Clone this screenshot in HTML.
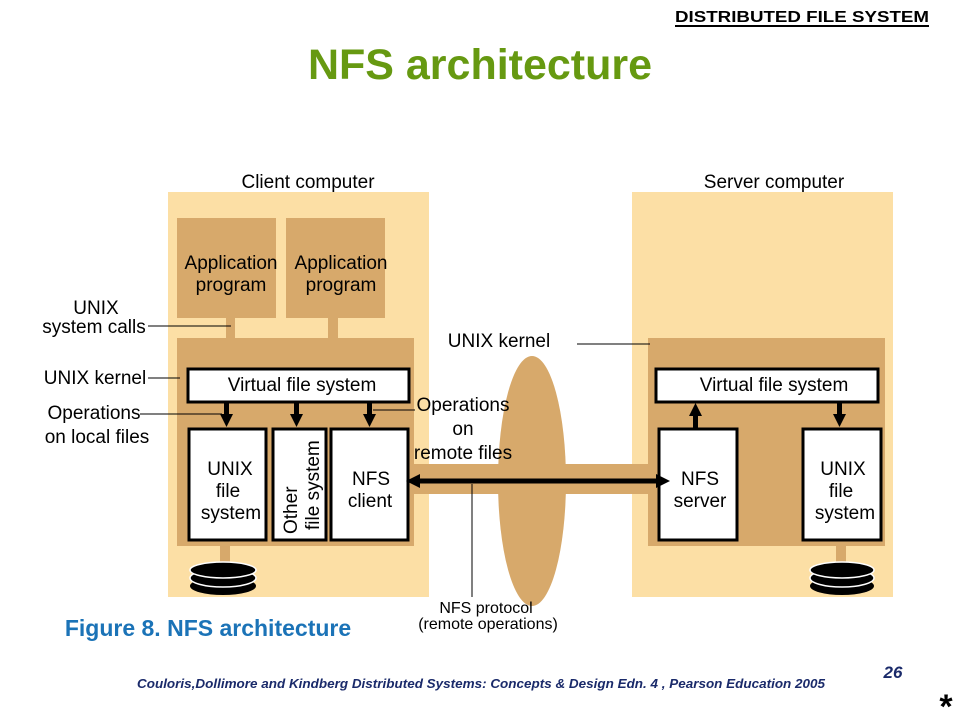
<!DOCTYPE html>
<html><head><style>
body{margin:0;background:#fff}
svg{display:block}
text{font-family:"Liberation Sans",Arial,sans-serif}
</style></head><body>
<svg width="960" height="720" viewBox="0 0 960 720" xmlns="http://www.w3.org/2000/svg">
<text x="929" y="22" font-size="16" font-weight="bold" text-anchor="end" textLength="254" lengthAdjust="spacingAndGlyphs">DISTRIBUTED FILE SYSTEM</text>
<line x1="675" y1="26" x2="929" y2="26" stroke="#000" stroke-width="2"/>
<text x="480" y="79" font-size="43" font-weight="bold" fill="#669911" text-anchor="middle">NFS architecture</text>

<g font-size="19">
<text x="308" y="188" text-anchor="middle">Client computer</text>
<text x="774" y="188" text-anchor="middle">Server computer</text>
</g>

<rect x="168" y="192" width="261" height="405" fill="#fcdfa5"/>
<rect x="632" y="192" width="261" height="405" fill="#fcdfa5"/>

<rect x="408" y="464" width="252" height="30" fill="#d7a96b"/>
<ellipse cx="532" cy="481" rx="34" ry="125" fill="#d7a96b"/>

<g font-size="19">
<rect x="177" y="218" width="99" height="100" fill="#d7a96b"/>
<rect x="286" y="218" width="99" height="100" fill="#d7a96b"/>
<text x="231" y="269" text-anchor="middle">Application</text>
<text x="231" y="291" text-anchor="middle">program</text>
<text x="341" y="269" text-anchor="middle">Application</text>
<text x="341" y="291" text-anchor="middle">program</text>
<rect x="226" y="318" width="9" height="22" fill="#d7a96b"/>
<rect x="328" y="318" width="10" height="22" fill="#d7a96b"/>
<rect x="177" y="338" width="237" height="208" fill="#d7a96b"/>
<rect x="188" y="369" width="221" height="33" fill="#fff" stroke="#000" stroke-width="3"/>
<text x="302" y="391" text-anchor="middle">Virtual file system</text>
<rect x="189" y="429" width="77" height="111" fill="#fff" stroke="#000" stroke-width="3"/>
<rect x="273" y="429" width="53" height="111" fill="#fff" stroke="#000" stroke-width="3"/>
<rect x="331" y="429" width="77" height="111" fill="#fff" stroke="#000" stroke-width="3"/>
<text x="230" y="475" text-anchor="middle">UNIX</text>
<text x="228" y="497" text-anchor="middle">file</text>
<text x="231" y="519" text-anchor="middle">system</text>
<text transform="translate(297,534) rotate(-90)">Other</text>
<text transform="translate(319,530) rotate(-90)">file system</text>
<text x="371" y="485" text-anchor="middle">NFS</text>
<text x="370" y="507" text-anchor="middle">client</text>
</g>
<rect x="220" y="545" width="10" height="24" fill="#d7a96b"/>
<g>
<ellipse cx="223" cy="586" rx="33" ry="9" fill="#000"/>
<ellipse cx="223" cy="578" rx="33" ry="9" fill="#000" stroke="#fff" stroke-width="1.5"/>
<ellipse cx="223" cy="570" rx="33" ry="8" fill="#000" stroke="#fff" stroke-width="1.5"/>
</g>

<g font-size="19">
<rect x="648" y="338" width="237" height="208" fill="#d7a96b"/>
<rect x="656" y="369" width="222" height="33" fill="#fff" stroke="#000" stroke-width="3"/>
<text x="774" y="391" text-anchor="middle">Virtual file system</text>
<rect x="659" y="429" width="78" height="111" fill="#fff" stroke="#000" stroke-width="3"/>
<rect x="803" y="429" width="78" height="111" fill="#fff" stroke="#000" stroke-width="3"/>
<text x="700" y="485" text-anchor="middle">NFS</text>
<text x="700" y="507" text-anchor="middle">server</text>
<text x="843" y="475" text-anchor="middle">UNIX</text>
<text x="841" y="497" text-anchor="middle">file</text>
<text x="845" y="519" text-anchor="middle">system</text>
</g>
<g fill="#000">
<rect x="224" y="402" width="5" height="14"/><path d="M220,414 L233,414 L226.5,427 z"/>
<rect x="294" y="402" width="5" height="14"/><path d="M290,414 L303,414 L296.5,427 z"/>
<rect x="367" y="402" width="5" height="14"/><path d="M363,414 L376,414 L369.5,427 z"/>
<rect x="693" y="414" width="5" height="15"/><path d="M689,416 L702,416 L695.5,403 z"/>
<rect x="837" y="402" width="5" height="14"/><path d="M833,414 L846,414 L839.5,427 z"/>
</g>
<rect x="836" y="545" width="10" height="24" fill="#d7a96b"/>
<g>
<ellipse cx="842" cy="586" rx="32" ry="9" fill="#000"/>
<ellipse cx="842" cy="578" rx="32" ry="9" fill="#000" stroke="#fff" stroke-width="1.5"/>
<ellipse cx="842" cy="570" rx="32" ry="8" fill="#000" stroke="#fff" stroke-width="1.5"/>
</g>

<line x1="418" y1="481" x2="660" y2="481" stroke="#000" stroke-width="5"/>
<path d="M406,481 L420,474 L420,488 z" fill="#000"/>
<path d="M670,481 L656,474 L656,488 z" fill="#000"/>
<line x1="472" y1="484" x2="472" y2="597" stroke="#000" stroke-width="1"/>
<text x="486" y="613" font-size="16" text-anchor="middle">NFS protocol</text>
<text x="488" y="629" font-size="16" text-anchor="middle">(remote operations)</text>

<g font-size="19">
<text x="96" y="314" text-anchor="middle">UNIX</text>
<text x="94" y="333" text-anchor="middle">system calls</text>
<text x="95" y="384" text-anchor="middle">UNIX kernel</text>
<text x="94" y="419" text-anchor="middle">Operations</text>
<text x="97" y="443" text-anchor="middle">on local files</text>
<text x="463" y="411" text-anchor="middle">Operations</text>
<text x="463" y="435" text-anchor="middle">on</text>
<text x="463" y="459" text-anchor="middle">remote files</text>
<text x="499" y="347" text-anchor="middle">UNIX kernel</text>
</g>
<line x1="148" y1="326" x2="231" y2="326" stroke="#000"/>
<line x1="148" y1="378" x2="180" y2="378" stroke="#000"/>
<line x1="140" y1="414" x2="222" y2="414" stroke="#000"/>
<line x1="373" y1="410" x2="415" y2="410" stroke="#000"/>
<line x1="577" y1="344" x2="650" y2="344" stroke="#000"/>

<text x="208" y="636" font-size="23" font-weight="bold" fill="#1b73b7" text-anchor="middle">Figure 8. NFS architecture</text>
<text x="481" y="688" font-size="13" font-weight="bold" font-style="italic" fill="#1a2a6a" text-anchor="middle" textLength="688" lengthAdjust="spacingAndGlyphs">Couloris,Dollimore and Kindberg  Distributed Systems: Concepts &amp; Design  Edn. 4 , Pearson Education 2005</text>
<text x="893" y="678" font-size="17" font-weight="bold" font-style="italic" fill="#1a2a6a" text-anchor="middle">26</text>
<text x="946" y="718" font-size="34" font-weight="bold" text-anchor="middle">*</text>
</svg>
</body></html>
